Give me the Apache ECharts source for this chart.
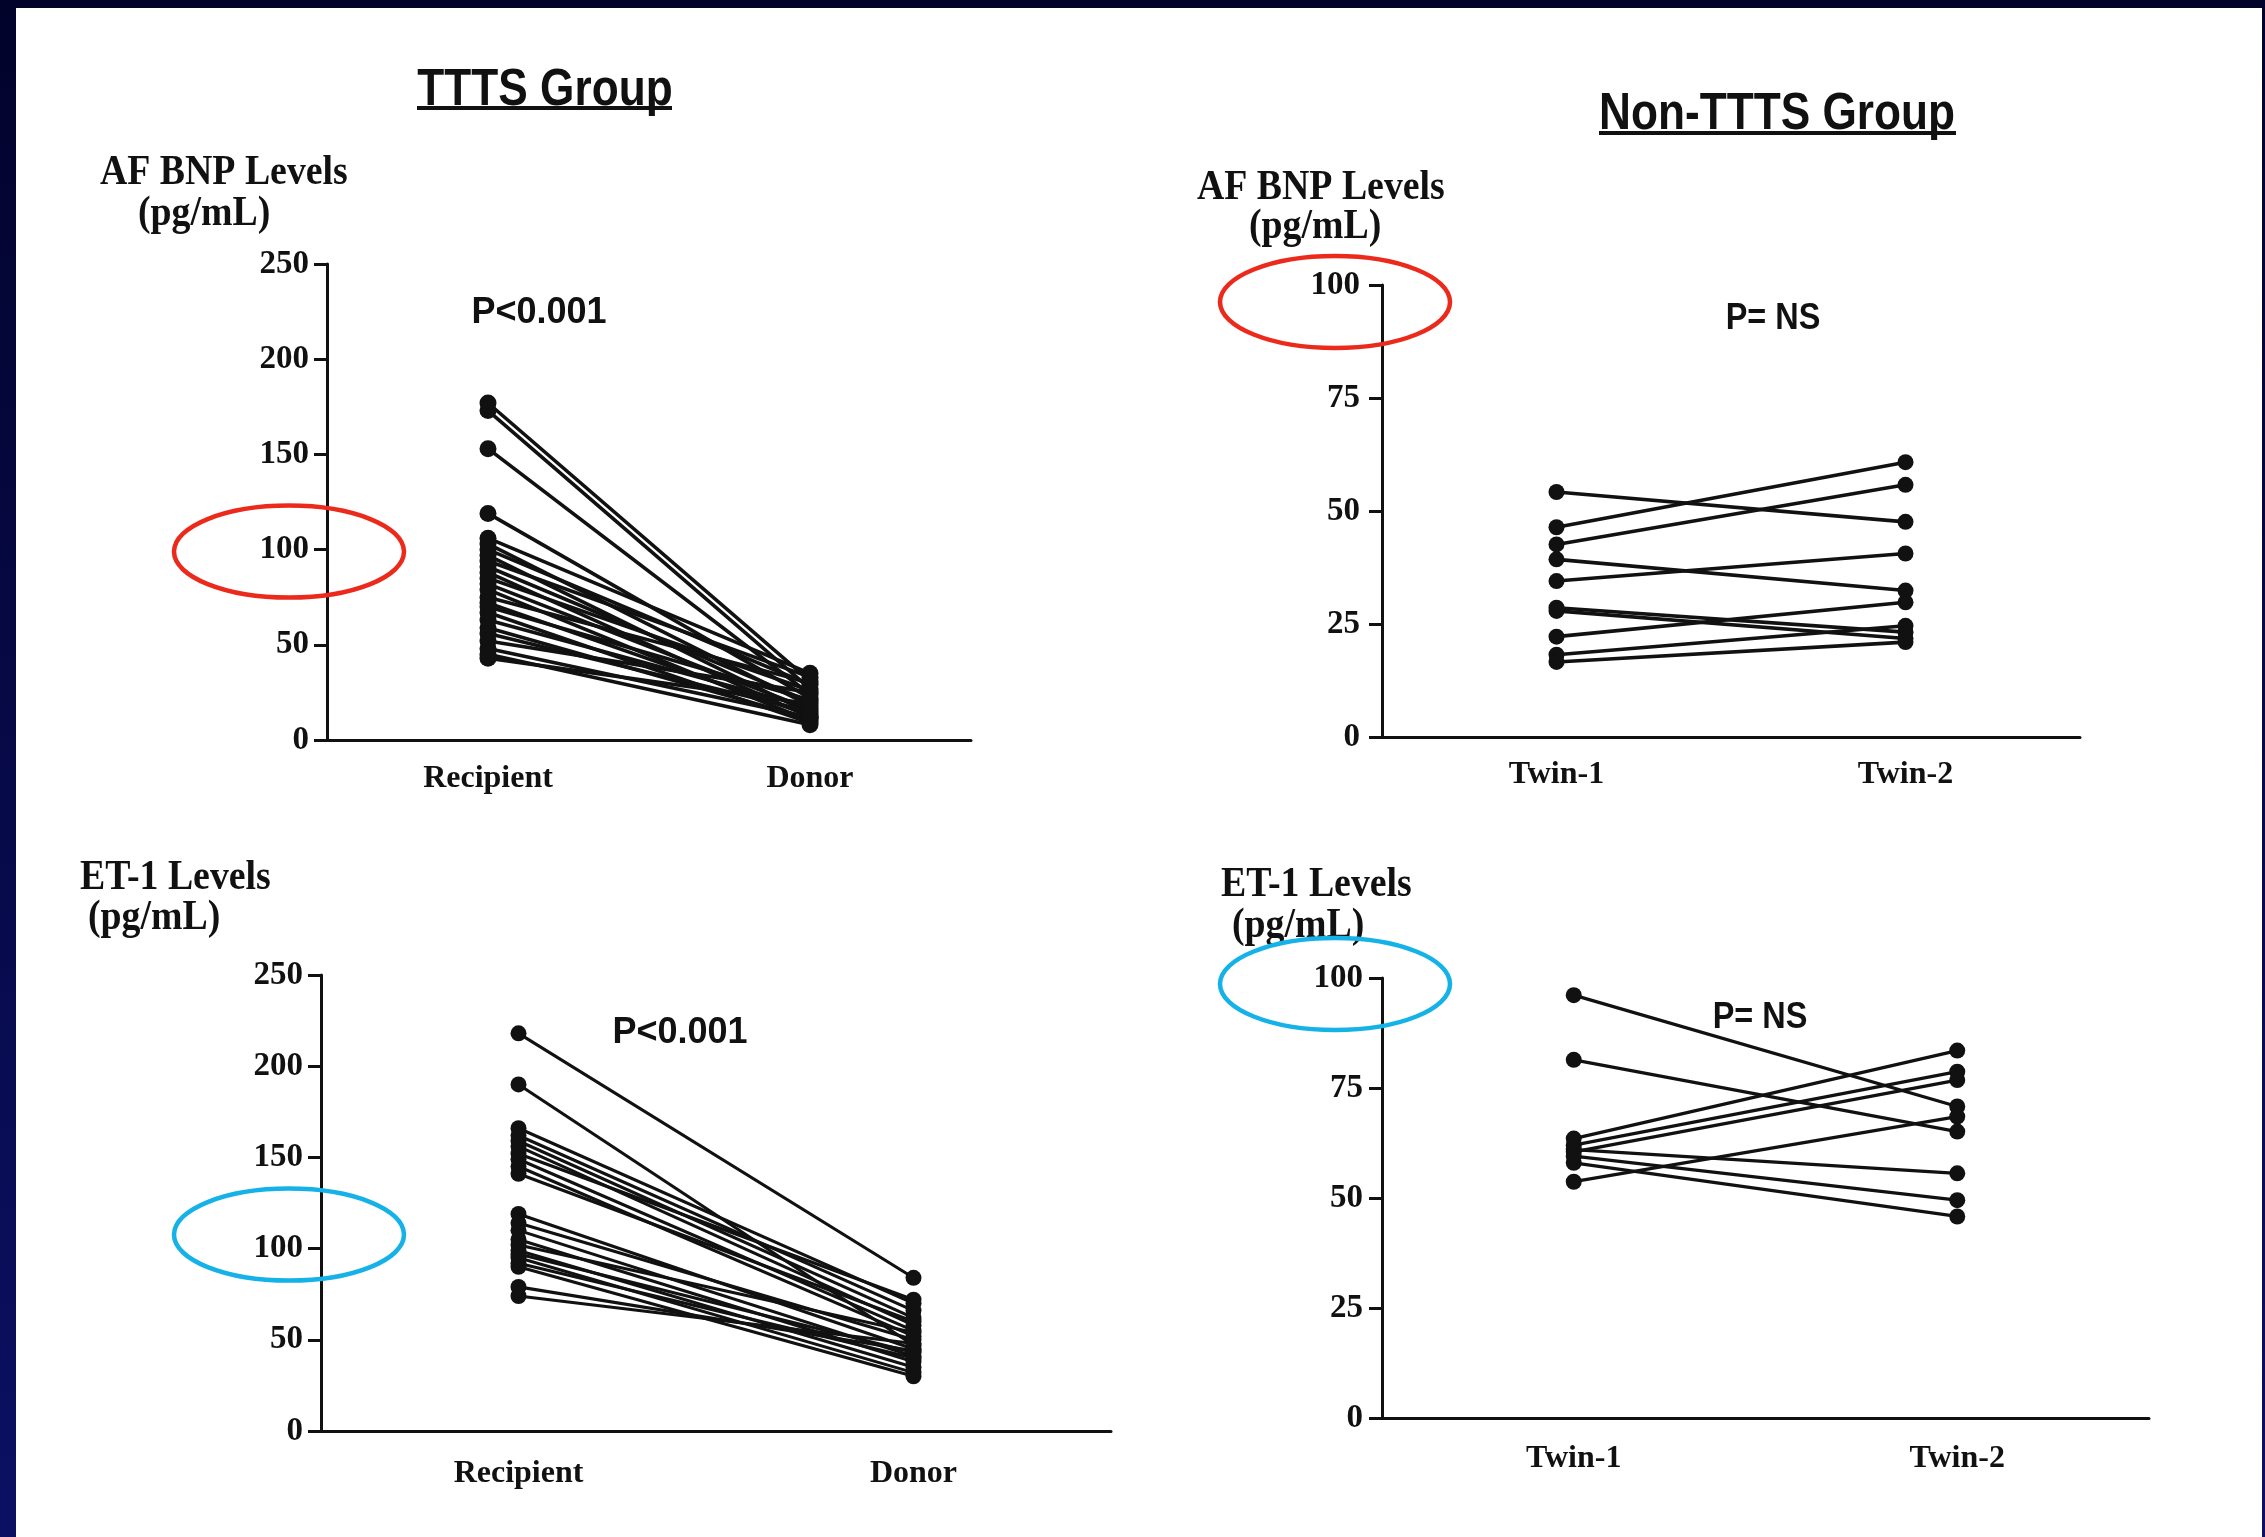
<!DOCTYPE html>
<html>
<head>
<meta charset="utf-8">
<script src="https://cdn.jsdelivr.net/npm/echarts@6/dist/echarts.min.js"></script>
<style>
  html, body { margin: 0; padding: 0; background: #fff; }
  #chart { width: 2265px; height: 1537px; }
</style>
</head>
<body>
<div id="chart"></div>
<script>
// Paired measurements, one entry per twin pair (pg/mL)
const tttsCategories = ['Recipient', 'Donor'];
const nonTttsCategories = ['Twin-1', 'Twin-2'];

// AF BNP, TTTS group
const bnpTttsRecipient = [177, 173, 153, 119, 106, 103, 100, 97, 94, 91, 88, 85, 82, 79, 75, 72, 70, 67, 63, 59, 56, 52, 48, 45, 43];
const bnpTttsDonor     = [31, 27, 24, 22, 35, 18, 29, 14, 33, 20, 12, 26, 16, 10, 30, 13, 21, 9, 17, 11, 15, 25, 12, 8, 19];

// AF BNP, non-TTTS group
const bnpNonTwin1 = [54.2, 46.4, 42.6, 39.3, 34.5, 28.6, 27.9, 22.2, 18.2, 16.6];
const bnpNonTwin2 = [47.6, 60.8, 55.8, 32.4, 40.6, 23.2, 21.8, 29.8, 24.6, 21.0];

// ET-1, TTTS group
const et1TttsRecipient = [218, 190, 166, 162, 159, 156, 152, 149, 145, 141, 119, 114, 110, 105, 102, 99, 97, 95, 92, 90, 79, 74];
const et1TttsDonor     = [84, 47, 70, 66, 62, 58, 72, 55, 52, 60, 45, 50, 41, 38, 54, 35, 43, 32, 40, 30, 44, 48];

// ET-1, non-TTTS group
const et1NonTwin1 = [96.1, 81.4, 63.5, 62.0, 60.5, 61.0, 59.5, 58.0, 53.7];
const et1NonTwin2 = [70.8, 65.1, 83.5, 78.7, 76.8, 55.6, 49.5, 45.8, 68.5];

// Value axis ranges and tick steps
const tttsAxisMax = 250, tttsAxisStep = 50;
const nonTttsAxisMax = 100, nonTttsAxisStep = 25;
const circledTick = 100;

const panels = [
  { cats: tttsCategories, first: bnpTttsRecipient, second: bnpTttsDonor, max: tttsAxisMax, step: tttsAxisStep,
    grid: { left: 327, top: 264, width: 644, height: 476 }, labelMargin: 23, yMargin: 18, dot: 17, lw: 3.6 },
  { cats: nonTttsCategories, first: bnpNonTwin1, second: bnpNonTwin2, max: nonTttsAxisMax, step: nonTttsAxisStep,
    grid: { left: 1382, top: 285, width: 698, height: 452 }, labelMargin: 22, yMargin: 22, dot: 16, lw: 3.6 },
  { cats: tttsCategories, first: et1TttsRecipient, second: et1TttsDonor, max: tttsAxisMax, step: tttsAxisStep,
    grid: { left: 321, top: 975, width: 790, height: 456 }, labelMargin: 27, yMargin: 18, dot: 16, lw: 3.1 },
  { cats: nonTttsCategories, first: et1NonTwin1, second: et1NonTwin2, max: nonTttsAxisMax, step: nonTttsAxisStep,
    grid: { left: 1382, top: 978, width: 767, height: 440 }, labelMargin: 25, yMargin: 19, dot: 16, lw: 3.3 }
];

const INK = '#111111';
const SERIF = '"Liberation Serif", "Times New Roman", serif';
const SANS = '"Liberation Sans", Arial, Helvetica, sans-serif';

const grid = [], xAxis = [], yAxis = [], series = [];
panels.forEach((p, i) => {
  grid.push(Object.assign({ containLabel: false }, p.grid));
  xAxis.push({
    type: 'category', gridIndex: i, data: p.cats, boundaryGap: true,
    axisLine: { lineStyle: { color: INK, width: 3 } },
    axisTick: { alignWithLabel: true, length: 13, lineStyle: { color: INK, width: 3 } },
    axisLabel: { color: INK, fontFamily: SERIF, fontWeight: 'bold', fontSize: 32, margin: p.labelMargin },
    splitLine: { show: false }
  });
  yAxis.push({
    type: 'value', gridIndex: i, min: 0, max: p.max, interval: p.step,
    axisLine: { show: true, lineStyle: { color: INK, width: 3 } },
    axisTick: { show: true, length: 13, lineStyle: { color: INK, width: 3 } },
    axisLabel: { color: INK, fontFamily: SERIF, fontWeight: 'bold', fontSize: 33, margin: p.yMargin },
    splitLine: { show: false }
  });
  p.first.forEach((v, k) => {
    series.push({
      type: 'line', xAxisIndex: i, yAxisIndex: i,
      data: [v, p.second[k]],
      symbol: 'circle', symbolSize: p.dot, showSymbol: true,
      lineStyle: { color: INK, width: p.lw },
      itemStyle: { color: INK },
      emphasis: { disabled: true }, silent: true, z: 3
    });
  });
});

function label(id, text, x, y, opts) {
  return {
    type: 'text', id: id, x: x, y: y, scaleX: opts.scaleX || 1, z: 10,
    style: {
      text: text, x: 0, y: 0, align: opts.align || 'left', verticalAlign: 'middle',
      fill: INK, font: opts.font
    }
  };
}

const titleFont = 'bold 52px ' + SANS;
const axisTitleFont = 'bold 42px ' + SERIF;
const pFont = 'bold 36px ' + SANS;

const graphic = [
  { type: 'rect', id: 'paper', z: -100, silent: true,
    shape: { x: 16, y: 8, width: 2246, height: 1529 }, style: { fill: '#ffffff' } },

  label('t1', 'TTTS Group', 545, 91, { font: titleFont, align: 'center', scaleX: 0.85 }),
  { type: 'line', id: 'u1', z: 10, shape: { x1: 417, y1: 108, x2: 672, y2: 108 }, style: { stroke: INK, lineWidth: 4 } },
  label('t2', 'Non-TTTS Group', 1777, 115, { font: titleFont, align: 'center', scaleX: 0.85 }),
  { type: 'line', id: 'u2', z: 10, shape: { x1: 1599, y1: 133, x2: 1956, y2: 133 }, style: { stroke: INK, lineWidth: 4 } },

  label('a1', 'AF BNP Levels', 100, 173, { font: axisTitleFont, scaleX: 0.9 }),
  label('a1u', '(pg/mL)', 138, 214, { font: axisTitleFont, scaleX: 0.9 }),
  label('a2', 'AF BNP Levels', 1197, 188, { font: axisTitleFont, scaleX: 0.9 }),
  label('a2u', '(pg/mL)', 1249, 227, { font: axisTitleFont, scaleX: 0.9 }),
  label('a3', 'ET-1 Levels', 80, 878, { font: axisTitleFont, scaleX: 0.9 }),
  label('a3u', '(pg/mL)', 88, 918, { font: axisTitleFont, scaleX: 0.9 }),
  label('a4', 'ET-1 Levels', 1221, 885, { font: axisTitleFont, scaleX: 0.9 }),
  label('a4u', '(pg/mL)', 1232, 926, { font: axisTitleFont, scaleX: 0.9 }),

  label('p1', 'P<0.001', 539, 313, { font: pFont, align: 'center' }),
  label('p2', 'P= NS', 1773, 319, { font: pFont, align: 'center', scaleX: 0.9 }),
  label('p3', 'P<0.001', 680, 1033, { font: pFont, align: 'center' }),
  label('p4', 'P= NS', 1760, 1018, { font: pFont, align: 'center', scaleX: 0.9 })
];

const chart = echarts.init(document.getElementById('chart'), null, { renderer: 'canvas' });
chart.setOption({
  animation: false,
  backgroundColor: {
    type: 'linear', x: 0, y: 0, x2: 0, y2: 1,
    colorStops: [{ offset: 0, color: '#02032b' }, { offset: 1, color: '#0b1063' }]
  },
  grid: grid, xAxis: xAxis, yAxis: yAxis, series: series, graphic: graphic
});

// Highlight rings around the "100" tick label of each value axis
const ringColors = ['#ec2a1c', '#ec2a1c', '#15b2e8', '#15b2e8'];
const ringOffsets = [[-38, 2], [-47, 17], [-32, -14], [-47, 6]];
const rings = panels.map((p, i) => {
  const cy = chart.convertToPixel({ yAxisIndex: i }, circledTick);
  return {
    type: 'ellipse', id: 'ring' + i, z: 20, silent: true,
    shape: { cx: p.grid.left + ringOffsets[i][0], cy: cy + ringOffsets[i][1], rx: 115, ry: 46 },
    style: { fill: null, stroke: ringColors[i], lineWidth: 4.5 }
  };
});
chart.setOption({ graphic: rings });
</script>
</body>
</html>
